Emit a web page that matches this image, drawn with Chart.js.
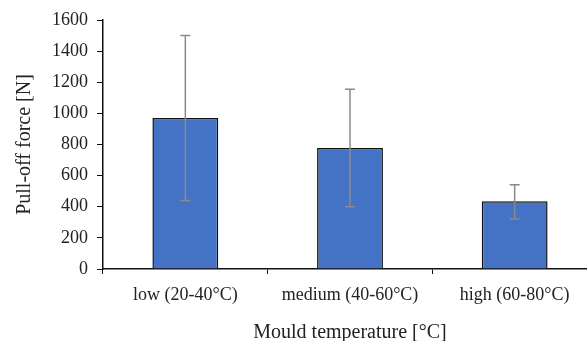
<!DOCTYPE html>
<html>
<head>
<meta charset="utf-8">
<script src="https://cdn.jsdelivr.net/npm/chart.js@4.4.1/dist/chart.umd.min.js"></script>
<style>
  html, body { margin: 0; padding: 0; background: #fff; overflow: hidden; }
  #wrap { width: 600px; height: 345px; position: relative; }
</style>
</head>
<body>
<div id="wrap"><canvas id="c"></canvas></div>
<script>
const categories = ['low (20-40°C)', 'medium (40-60°C)', 'high (60-80°C)'];
const meanForce = [970, 778, 435];
const errLower = [440, 400, 322];
const errUpper = [1500, 1155, 542];
const yTicks = [0, 200, 400, 600, 800, 1000, 1200, 1400, 1600];

const FONT = "'Liberation Serif', 'Times New Roman', serif";
const TXT = '#222';

const errorBars = {
  id: 'errorBars',
  afterDatasetsDraw(chart) {
    const ctx = chart.ctx;
    const meta = chart.getDatasetMeta(0);
    const y = chart.scales.y;
    ctx.save();
    ctx.strokeStyle = '#8a8a8a';
    ctx.lineWidth = 1.5;
    meta.data.forEach((bar, i) => {
      const x = bar.x;
      const yt = y.getPixelForValue(errUpper[i]);
      const yb = y.getPixelForValue(errLower[i]);
      ctx.beginPath();
      ctx.moveTo(x, yt); ctx.lineTo(x, yb);
      ctx.moveTo(x - 5, yt); ctx.lineTo(x + 5, yt);
      ctx.moveTo(x - 5, yb); ctx.lineTo(x + 5, yb);
      ctx.stroke();
    });
    ctx.restore();
  }
};

new Chart(document.getElementById('c'), {
  type: 'bar',
  data: {
    labels: categories,
    datasets: [{
      data: meanForce,
      backgroundColor: '#4472C4',
      borderColor: '#111',
      borderWidth: 1.5,
      barPercentage: 0.4,
      categoryPercentage: 1.0
    }]
  },
  options: {
    responsive: true,
    maintainAspectRatio: false,
    animation: false,
    layout: { padding: { left: 0, right: 3, top: 20, bottom: 0 } },
    plugins: { legend: { display: false }, tooltip: { enabled: false } },
    scales: {
      x: {
        grid: { display: true, drawOnChartArea: false, drawTicks: true, tickLength: 5, color: '#111', offset: true },
        border: { display: true, color: '#111', width: 1.5 },
        ticks: { color: TXT, font: { family: FONT, size: 18 }, padding: 10, maxRotation: 0 },
        title: { display: true, text: 'Mould temperature [°C]', color: TXT, font: { family: FONT, size: 20 }, padding: { top: 8, bottom: 0 } },
        afterFit(s) { s.height = 76; }
      },
      y: {
        min: 0, max: 1600,
        afterBuildTicks(s) { s.ticks = yTicks.map(v => ({ value: v })); },
        grid: { display: true, drawOnChartArea: false, drawTicks: true, tickLength: 6, color: '#111' },
        border: { display: true, color: '#111', width: 1.5 },
        ticks: { color: TXT, font: { family: FONT, size: 18 }, padding: 9, callback: v => String(v) },
        title: { display: true, text: 'Pull-off force [N]', color: TXT, font: { family: FONT, size: 20 }, padding: { top: 13, bottom: 0 } },
        afterFit(s) { s.width = 103; }
      }
    }
  },
  plugins: [errorBars]
});
</script>
</body>
</html>
